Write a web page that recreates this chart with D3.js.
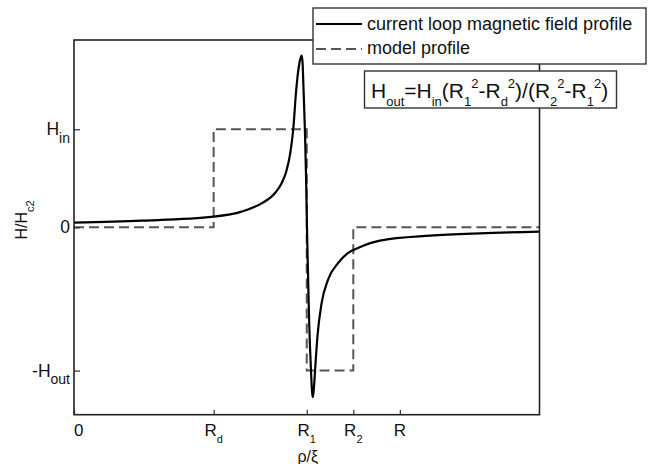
<!DOCTYPE html>
<html>
<head>
<meta charset="utf-8">
<script src="https://cdn.jsdelivr.net/npm/d3@7"></script>
<style>
  html, body { margin: 0; padding: 0; background: #fff; }
  svg { display: block; font-family: "Liberation Sans", Arial, Helvetica, sans-serif; }
</style>
</head>
<body>
<div id="chart"></div>
<script>
// ── Data (x in units of ξ, y in units of H_in) ──
const loopX = [0, 1.45, 3.0, 3.6, 4.03, 4.32, 4.46, 4.56, 4.64, 4.71, 4.77, 4.83, 4.87, 4.89, 4.91, 4.93, 4.96, 4.985, 5.01, 5.05, 5.09, 5.115, 5.13, 5.15, 5.18, 5.23, 5.32, 5.46, 5.68, 5.89, 6.1, 6.57, 7.65, 8.72, 10];
const loopY = [0.048, 0.068, 0.109, 0.16, 0.245, 0.35, 0.45, 0.57, 0.74, 1.0, 1.38, 1.64, 1.73, 1.75, 1.68, 1.42, 1.0, 0.52, -0.12, -0.94, -1.45, -1.68, -1.73, -1.66, -1.45, -1.11, -0.77, -0.53, -0.36, -0.26, -0.21, -0.135, -0.085, -0.061, -0.044];

const modelX = [0, 3, 3, 5, 5, 6, 6, 10];
const modelY = [0, 0, 1, 1, -1.46, -1.46, 0, 0];

const xTicks = [0, 3, 5, 6, 7];
const xTickLabels = [["0"], ["R", "d"], ["R", "1"], ["R", "2"], ["R"]];
const yTicks = [1, 0, -1.46];
const yTickLabels = [["H", "in"], ["0"], ["-H", "out"]];

const legendLabels = ["current loop magnetic field profile", "model profile"];
const formulaParts = [
  ["H", "n"], ["out", "sub"], ["=H", "n"], ["in", "sub"],
  ["(R", "n"], ["1", "sub"], ["2", "sup"], ["-R", "n"], ["d", "sub"], ["2", "sup"],
  [")/(R", "n"], ["2", "sub"], ["2", "sup"], ["-R", "n"], ["1", "sub"], ["2", "sup"], [")", "n"]
];

(function () {
  const W = 657, H = 464;
  const plot = { left: 74, right: 539.5, top: 40, bottom: 414.7 };

  const svg = d3.select("#chart").append("svg")
    .attr("width", W).attr("height", H);

  const x = d3.scaleLinear().domain([0, 10]).range([plot.left, plot.right]);
  const y = d3.scaleLinear().domain([-1.91, 1.91]).range([plot.bottom, plot.top]);

  // write main text + subscript / superscript pieces as tspans
  function richText(sel, parts, size, small) {
    let shift = 0;
    parts.forEach(([str, kind]) => {
      const target = kind === "sub" ? size * 0.42 : kind === "sup" ? -size * 0.45 : 0;
      sel.append("tspan")
        .attr("dy", target - shift)
        .attr("font-size", kind === "n" ? size : small)
        .text(str);
      shift = target;
    });
  }

  // ── Curves ──
  const line = d3.line().x(d => x(d[0])).y(d => y(d[1]));

  svg.append("path")
    .datum(modelX.map((v, i) => [v, modelY[i]]))
    .attr("d", line)
    .attr("fill", "none")
    .attr("stroke", "#555").attr("stroke-width", 2)
    .attr("stroke-dasharray", "10,5");

  svg.append("path")
    .datum(loopX.map((v, i) => [v, loopY[i]]))
    .attr("d", line.curve(d3.curveMonotoneX))
    .attr("fill", "none")
    .attr("stroke", "#000").attr("stroke-width", 2.2)
    .attr("stroke-linejoin", "round");

  // ── Axes (ticks pointing inward) ──
  const xAxis = svg.append("g")
    .attr("transform", `translate(0,${plot.bottom})`)
    .call(d3.axisTop(x).tickValues(xTicks).tickSize(5).tickFormat(""));
  const yAxis = svg.append("g")
    .attr("transform", `translate(${plot.left},0)`)
    .call(d3.axisRight(y).tickValues(yTicks).tickSize(6).tickFormat(""));
  [xAxis, yAxis].forEach(a => {
    a.select(".domain").remove();
    a.selectAll(".tick line").attr("stroke", "#333").attr("stroke-width", 1.2);
  });

  // frame
  svg.append("rect")
    .attr("x", plot.left).attr("y", plot.top)
    .attr("width", plot.right - plot.left).attr("height", plot.bottom - plot.top)
    .attr("fill", "none").attr("stroke", "#222").attr("stroke-width", 1.6);

  // tick labels
  xTicks.forEach((v, i) => {
    const t = svg.append("text")
      .attr("x", x(v)).attr("y", plot.bottom + 21)
      .attr("text-anchor", i === 0 ? "start" : "middle")
      .attr("fill", "#111");
    richText(t, xTickLabels[i].map((s, k) => [s, k === 0 ? "n" : "sub"]), 17, 11);
  });
  yTicks.forEach((v, i) => {
    const t = svg.append("text")
      .attr("x", plot.left - 4).attr("y", y(v) + 6)
      .attr("text-anchor", "end")
      .attr("fill", "#111");
    richText(t, yTickLabels[i].map((s, k) => [s, k === 0 ? "n" : "sub"]), 17.5, 14);
  });

  // axis titles
  svg.append("text")
    .attr("x", (plot.left + plot.right) / 2 + 1).attr("y", 462)
    .attr("text-anchor", "middle").attr("font-size", 16).attr("fill", "#111")
    .text("ρ/ξ");

  const yt = svg.append("text")
    .attr("transform", `translate(27,220) rotate(-90)`)
    .attr("text-anchor", "middle").attr("fill", "#111");
  richText(yt, [["H/H", "n"], ["c2", "sub"]], 16, 11);

  // ── Legend ──
  const lg = svg.append("g");
  lg.append("rect")
    .attr("x", 313).attr("y", 8).attr("width", 333).attr("height", 56)
    .attr("fill", "#fff").attr("stroke", "#333").attr("stroke-width", 1.4);
  lg.append("line")
    .attr("x1", 316).attr("x2", 362).attr("y1", 24).attr("y2", 24)
    .attr("stroke", "#000").attr("stroke-width", 2.2);
  lg.append("line")
    .attr("x1", 316).attr("x2", 362).attr("y1", 49).attr("y2", 49)
    .attr("stroke", "#555").attr("stroke-width", 2).attr("stroke-dasharray", "10,5");
  legendLabels.forEach((s, i) => {
    lg.append("text")
      .attr("x", 367).attr("y", 29.5 + i * 24.5)
      .attr("font-size", 18).attr("fill", "#111")
      .text(s);
  });

  // ── Formula box ──
  const fb = svg.append("g");
  fb.append("rect")
    .attr("x", 364.5).attr("y", 71).attr("width", 252).attr("height", 37)
    .attr("fill", "#fff").attr("stroke", "#333").attr("stroke-width", 1.4);
  const ft = fb.append("text")
    .attr("x", 371).attr("y", 97.5).attr("fill", "#111");
  richText(ft, formulaParts, 21, 13);
})();
</script>
</body>
</html>
